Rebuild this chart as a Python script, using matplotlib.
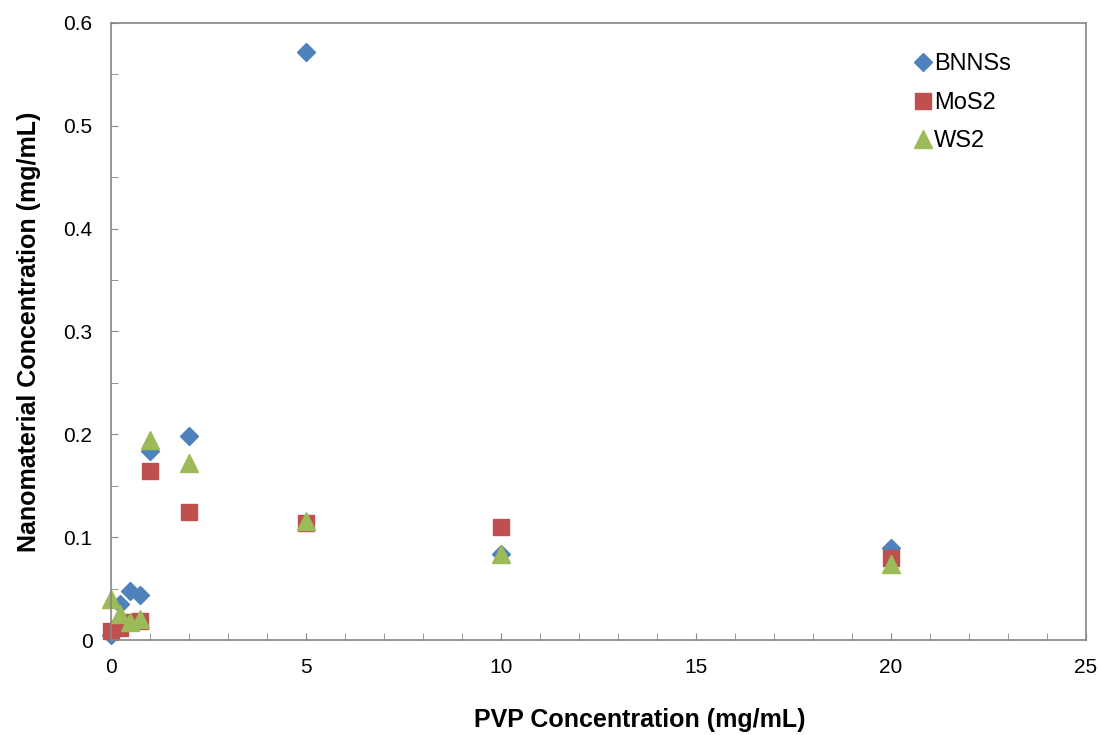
import matplotlib.pyplot as plt

plt.rcParams['font.family'] = ['Liberation Sans', 'DejaVu Sans']

pvp = [0, 0.25, 0.5, 0.75, 1, 2, 5, 10, 20]
bnns = [0.005, 0.035, 0.048, 0.044, 0.184, 0.198, 0.572, 0.084, 0.090]
mos2 = [0.009, 0.012, 0.018, 0.019, 0.164, 0.125, 0.114, 0.110, 0.080]
ws2 = [0.040, 0.025, 0.018, 0.021, 0.195, 0.172, 0.116, 0.084, 0.074]

fig = plt.figure(figsize=(10.99, 7.35), dpi=100)
ax = fig.add_axes([0.1007, 0.129, 0.8873, 0.84])

ax.plot(pvp, bnns, 'D', color='#4F81BD', markersize=9, label='BNNSs', clip_on=False)
ax.plot(pvp, mos2, 's', color='#C0504D', markersize=12, label='MoS2', clip_on=False)
ax.plot(pvp, ws2, '^', color='#9BBB59', markersize=13, label='WS2', clip_on=False)

ax.set_xlim(0, 25)
ax.set_ylim(0, 0.6)
ax.set_xticks([0, 5, 10, 15, 20, 25])
ax.set_xticks(range(0, 26), minor=True)
ax.set_yticks([0, 0.1, 0.2, 0.3, 0.4, 0.5, 0.6])
ax.set_yticklabels(['0', '0.1', '0.2', '0.3', '0.4', '0.5', '0.6'])
ax.set_yticks([i * 0.05 for i in range(13)], minor=True)
ax.tick_params(which='both', direction='in', length=5, color='#868686', labelsize=15, pad=13)
ax.tick_params(which='both', top=False, right=False)

for s in ax.spines.values():
    s.set_color('#868686')
    s.set_linewidth(1.2)

ax.set_xlabel('PVP Concentration (mg/mL)', fontsize=18, fontweight='bold', labelpad=22)
ax.xaxis.label.set_x(0.543)
ax.set_ylabel('Nanomaterial Concentration (mg/mL)', fontsize=18, fontweight='bold', labelpad=16)

ax.legend(loc='upper right', bbox_to_anchor=(0.945, 0.985), frameon=False, fontsize=17,
          handletextpad=0.07, labelspacing=0.7, handlelength=0.8)

fig.savefig('out.png', dpi=100)
